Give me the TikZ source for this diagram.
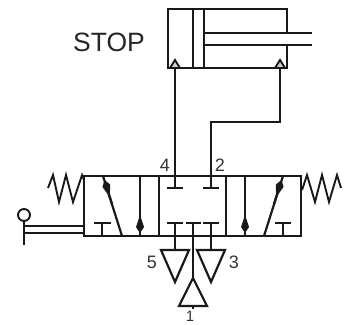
\documentclass[tikz,border=0pt]{standalone}
\usepackage{fontspec}
\setmainfont{Liberation Sans}
\usetikzlibrary{arrows.meta,positioning}

\begin{document}
\begin{tikzpicture}[
  x=1pt, y=-1pt,
  line join=miter,
  pipe/.style={line width=2.2pt, draw=black!90},
  thin pipe/.style={line width=1.9pt, draw=black!90},
  flow/.style={pipe, -{Kite[length=18pt, width=8pt, inset=12pt]}},
  flowback/.style={pipe, -{Kite[length=18pt, width=8pt, inset=12pt]}},
  seat/.style={pipe, fill=black!18, line width=1.9pt},
  port/.style={font=\fontsize{18}{18}\selectfont, text=black!80, inner sep=0pt},
  title/.style={font=\fontsize{26.5}{26.5}\selectfont, text=black!85, inner sep=0pt}
  ]
\useasboundingbox (0,0) rectangle (347,324);

% cylinder
\coordinate (cylA) at (175,68);
\coordinate (cylB) at (280,68);
\draw[pipe] (287,33) -- (287,9) -- (168,9) -- (168,68) -- (287,68) -- (287,45);
\draw[pipe] (193,9) -- (193,68);
\draw[pipe] (204,9) -- (204,68);
\draw[pipe] (204,33) -- (312,33);
\draw[pipe] (204,45) -- (312,45);
\foreach \px in {175,280} {
    \draw[seat] (\px-5,68) -- (\px,60) -- (\px+5,68) -- cycle;
}

% valve body
\draw[pipe] (84,176) rectangle (301,236);
\draw[pipe] (159,176) -- (159,236);
\draw[pipe] (226,176) -- (226,236);

% ports
\coordinate (port4) at (175,176);
\coordinate (port2) at (211,176);
\coordinate (bendB) at (280,122);
\coordinate (bendA) at (211,122);
\draw[pipe] (cylA) -- (port4);
\draw[pipe] (cylB) -- (bendB) -- (bendA) -- (port2);

% blocked ports, centre cell
\foreach \px in {175,211} {
    \draw[pipe] (\px,176) -- (\px,188);
    \draw[pipe] (\px-8,188) -- (\px+8,188);
    \draw[pipe] (\px-8,223) -- (\px+8,223);
    \draw[pipe] (\px,223) -- (\px,250);
    \draw[pipe] (\px-14,250) -- (\px+14,250) -- (\px,282) -- cycle;
}
\draw[pipe] (186,223) -- (201,223);
\draw[pipe] (193,223) -- (193,278);
\draw[pipe] (193,278) -- (179,306) -- (207,306) -- cycle;
\draw[thin pipe] (193,306) -- (193,309);

% left cell
\draw[pipe] (122,236) -- (103,176);
\draw[flow] (112,204) -- (104.5,180);
\draw[pipe] (140,176) -- (140,236);
\draw[flowback] (140,214) -- (140,233);
\draw[pipe] (94,223) -- (111,223);
\draw[pipe] (102,223) -- (102,236);

% right cell
\draw[pipe] (264,236) -- (283,176);
\draw[flow] (274,204) -- (281.5,180);
\draw[pipe] (245,176) -- (245,236);
\draw[flowback] (245,214) -- (245,233);
\draw[pipe] (275,223) -- (291,223);
\draw[pipe] (283,223) -- (283,236);

% springs
\draw[thin pipe] (48,188) -- (53,175) -- (59,202) -- (66,175) -- (73,202) -- (82,175) -- (84,180);
\draw[thin pipe] (302,190) -- (307,175) -- (315,202) -- (322,175) -- (329,202) -- (337,175) -- (341,188);

% lever
\node[circle, draw=black!90, line width=1.9pt, minimum size=12pt, inner sep=0pt] (knob) at (24,215) {};
\draw[pipe] (knob) -- (24,245);
\draw[pipe] (24,226) -- (84,226);
\draw[pipe] (24,233) -- (84,233);

% labels
\node[title] (stop) at (109,42) {STOP};
\node[port] (lab4) at (165,165) {4};
\node[port] (lab2) at (220,165) {2};
\node[port] (lab5) at (152,262) {5};
\node[port] (lab3) at (234,262) {3};
\node[port, font=\fontsize{15}{15}\selectfont] (lab1) at (190,316) {1};
\end{tikzpicture}
\end{document}
